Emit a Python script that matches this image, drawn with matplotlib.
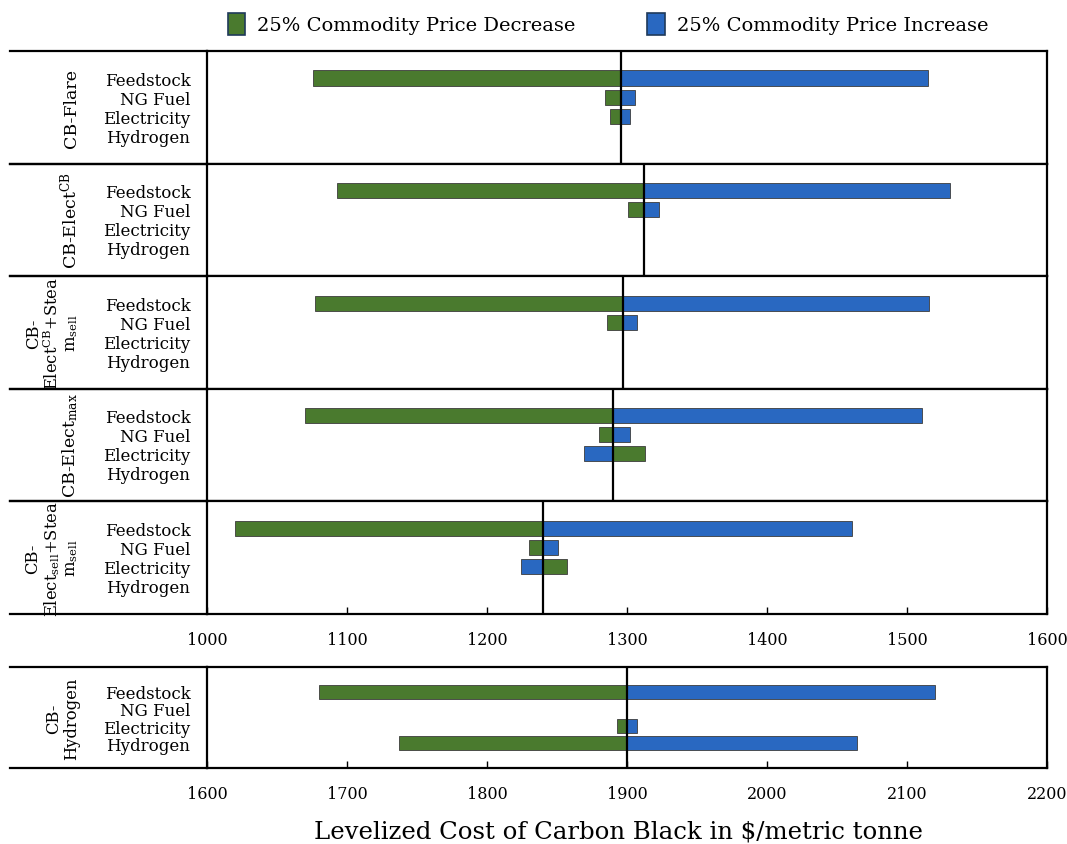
import matplotlib
matplotlib.use("Agg")
import matplotlib.pyplot as plt
from matplotlib.lines import Line2D
from matplotlib.patches import Patch
import numpy as np

plt.rcParams.update({
    "font.family": "DejaVu Serif",
    "mathtext.fontset": "dejavuserif",
})

GREEN = "#4a7a2e"
BLUE = "#2968c1"
EDGE = "#3c3c3c"

CATEGORIES = ["Feedstock", "NG Fuel", "Electricity", "Hydrogen"]

SCENARIOS = [
    "CB-Flare",
    "CB-Elect$^{\\mathrm{CB}}$",
    "CB-\nElect$^{\\mathrm{CB}}$+Stea\nm$_{\\mathrm{sell}}$",
    "CB-Elect$_{\\mathrm{max}}$",
    "CB-\nElect$_{\\mathrm{sell}}$+Stea\nm$_{\\mathrm{sell}}$",
]
BASE = [1296, 1312, 1297, 1290, 1240]
nan = np.nan
# cost with 25% commodity price decrease / increase
DECREASE = [
    [1076, 1284, 1288, nan],
    [1093, 1301, nan, nan],
    [1077, 1286, nan, nan],
    [1070, 1280, 1313, nan],
    [1020, 1230, 1257, nan],
]
INCREASE = [
    [1515, 1306, 1302, nan],
    [1531, 1323, nan, nan],
    [1516, 1307, nan, nan],
    [1511, 1302, 1269, nan],
    [1461, 1251, 1224, nan],
]

H2_NAME = "CB-\nHydrogen"
H2_BASE = 1900
H2_DECREASE = [1680, nan, 1893, 1737]
H2_INCREASE = [2120, nan, 1907, 2064]

W, H = 1067, 845
fig = plt.figure(figsize=(W / 100, H / 100), dpi=100)

LEFT_PX, RIGHT_PX, LINE_START = 207, 1047, 10


def add_panel(top, height):
    return fig.add_axes([LEFT_PX / W, 1 - (top + height) / H,
                         (RIGHT_PX - LEFT_PX) / W, height / H])


def draw_panel(ax, name, base, dec, inc, ylim, bar_h):
    rows = np.arange(len(CATEGORIES))
    dec = np.array(dec, dtype=float)
    inc = np.array(inc, dtype=float)
    ax.barh(rows, dec - base, left=base, height=bar_h, color=GREEN,
            edgecolor=EDGE, linewidth=0.6, zorder=2)
    ax.barh(rows, inc - base, left=base, height=bar_h, color=BLUE,
            edgecolor=EDGE, linewidth=0.6, zorder=2)
    ax.axvline(base, color="black", linewidth=1.6, zorder=3)
    ax.set_ylim(*ylim)
    ax.set_yticks(rows)
    ax.set_yticklabels(CATEGORIES, fontsize=12, linespacing=1.0)
    ax.tick_params(axis="y", length=0, pad=12)
    for sp in ax.spines.values():
        sp.set_linewidth(1.6)
    multi = "\n" in name
    ax.text(-0.151, 0.5, name, transform=ax.transAxes, rotation=90,
            ha="right", va="center", fontsize=11.8 if multi else 12.5,
            multialignment="center", linespacing=1.05)
    # extend top/bottom borders over the label area
    pos = ax.get_position()
    for yy in (pos.y0, pos.y1):
        fig.add_artist(Line2D([LINE_START / W, LEFT_PX / W], [yy, yy],
                              color="black", linewidth=1.6))


PANEL_TOP, PANEL_H = 52, 112.6
for i, name in enumerate(SCENARIOS):
    ax = add_panel(PANEL_TOP + i * PANEL_H, PANEL_H)
    draw_panel(ax, name, BASE[i], DECREASE[i], INCREASE[i], (4.5, -1.42), 0.79)
    ax.set_xlim(1000, 1600)
    ax.set_xticks(np.arange(1000, 1601, 100))
    if i < len(SCENARIOS) - 1:
        ax.tick_params(axis="x", bottom=False, labelbottom=False)
    else:
        ax.tick_params(axis="x", direction="in", length=5, width=1,
                       labelsize=11.5, pad=12)

ax_h2 = add_panel(668, 101)
draw_panel(ax_h2, H2_NAME, H2_BASE, H2_DECREASE, H2_INCREASE, (4.47, -1.47), 0.88)
ax_h2.set_xlim(1600, 2200)
ax_h2.set_xticks(np.arange(1600, 2201, 100))
ax_h2.tick_params(axis="x", direction="in", length=5, width=1,
                  labelsize=11.5, pad=12)

fig.text(618 / W, 1 - 832 / H, "Levelized Cost of Carbon Black in \\$/metric tonne",
         ha="center", va="center", fontsize=17.6)

handles = [Patch(facecolor=GREEN, edgecolor="#1f3a5a", linewidth=1.2),
           Patch(facecolor=BLUE, edgecolor="#1f3a5a", linewidth=1.2)]
fig.legend(handles, ["25% Commodity Price Decrease", "25% Commodity Price Increase"],
           loc="center", bbox_to_anchor=(608 / W, 1 - 25 / H), ncol=2,
           frameon=False, fontsize=14, handlelength=0.9, handleheight=1.35,
           handletextpad=0.6, columnspacing=3.7)

fig.savefig("out.png", dpi=100, facecolor="white")
